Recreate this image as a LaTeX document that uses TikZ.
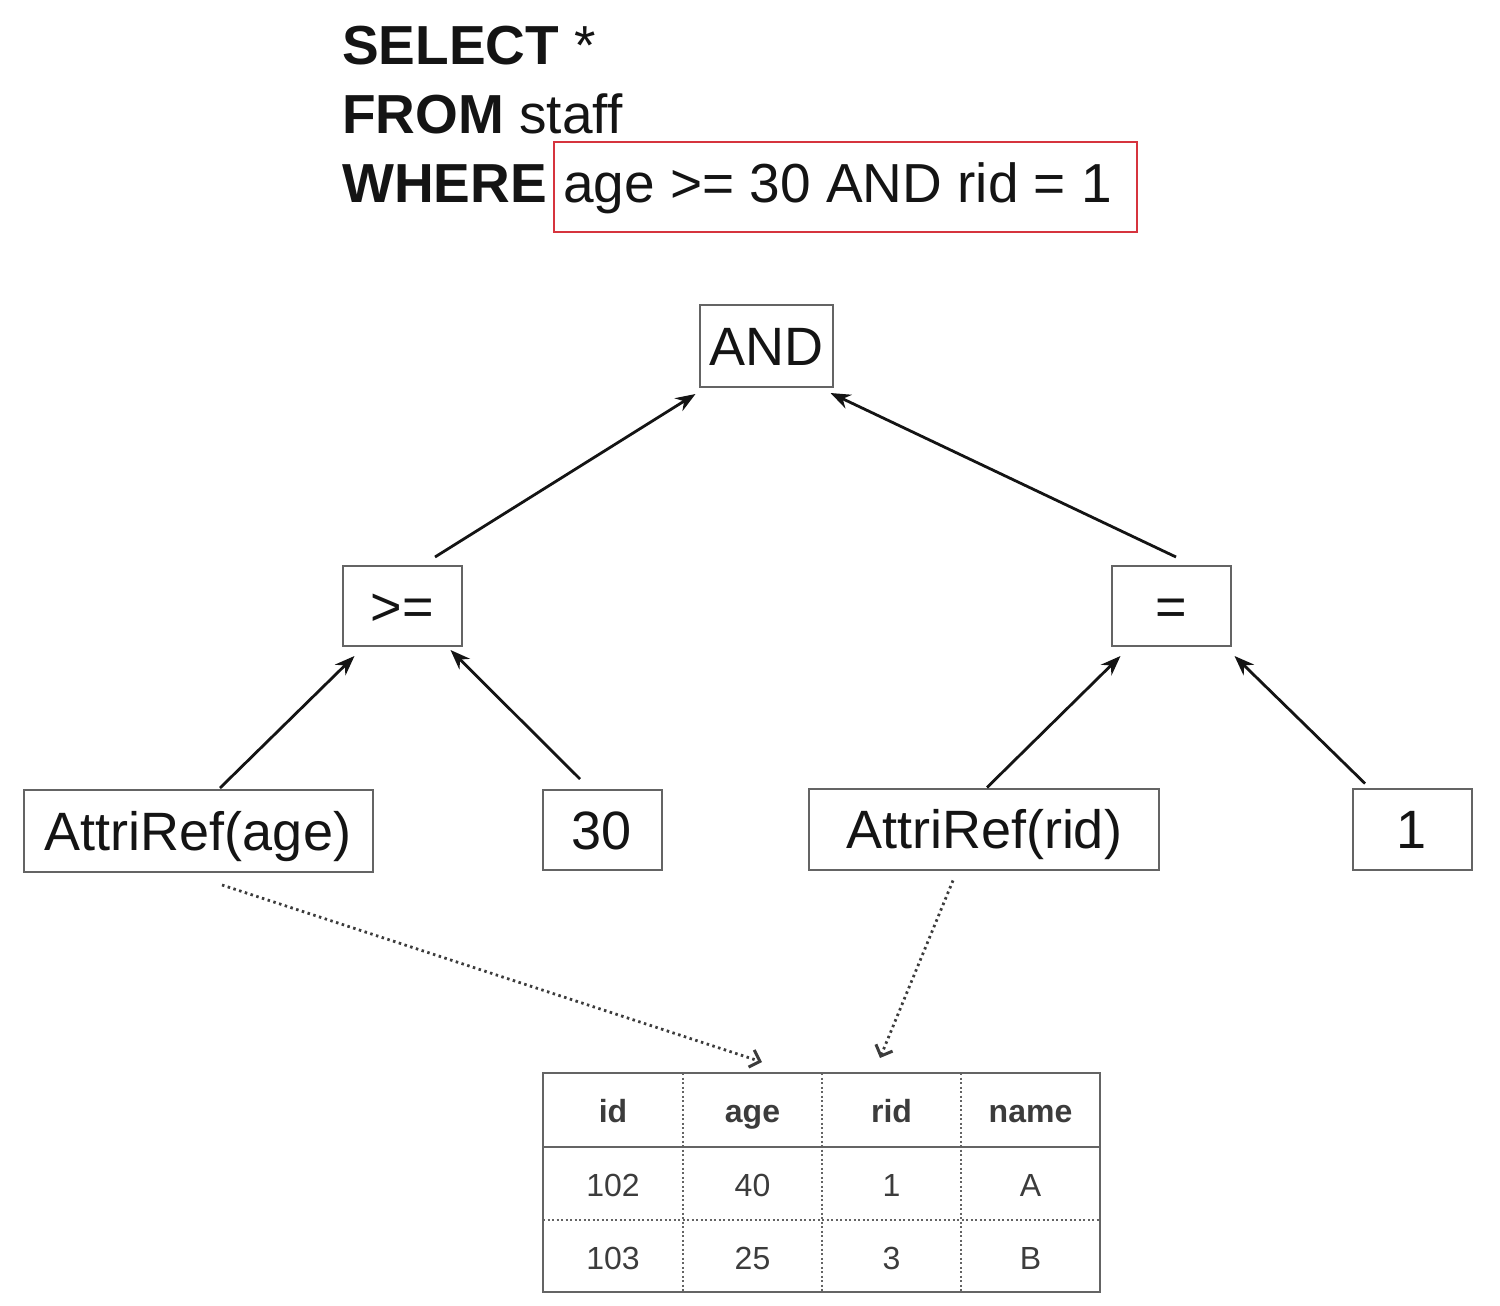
\documentclass[tikz,border=0pt]{standalone}
\usepackage{fontspec}
\setmainfont{Liberation Sans}
\usetikzlibrary{arrows.meta,calc}
\definecolor{redc}{RGB}{214,52,62}
\definecolor{boxc}{RGB}{100,100,100}
\definecolor{txtc}{RGB}{20,20,20}
\definecolor{tabc}{RGB}{60,60,60}
\tikzset{
  treebox/.style={draw=boxc, line width=2pt, inner sep=0pt, text=txtc, text height=39pt, text depth=0pt, font=\fontsize{54}{60}\selectfont},
  treearrow/.style={draw=txtc, line width=2.8pt, -{Stealth[length=20pt,width=15pt]}},
  refarrow/.style={draw=tabc, line width=2.8pt, dash pattern=on 2.5pt off 3.5pt, -{Straight Barb[length=9pt,width=18pt,line width=3pt]}},
  sqltext/.style={anchor=base west, inner sep=0pt, text=txtc, font=\fontsize{55}{60}\selectfont},
  cell/.style={anchor=base, inner sep=0pt, text=tabc, font=\fontsize{32}{36}\selectfont},
  headcell/.style={cell, font=\fontsize{32}{36}\selectfont\bfseries},
  tabsolid/.style={draw=boxc, line width=2.5pt},
  tabdot/.style={draw=boxc, line width=1.5pt, dash pattern=on 2pt off 2.5pt},
}
\begin{document}
\begin{tikzpicture}[x=1pt,y=-1pt]
\useasboundingbox (0,0) rectangle (1500,1306);

% SQL query
\node[sqltext] (sel) at (342,65) {\textbf{SELECT} *};
\node[sqltext] (from) at (342,133) {\textbf{FROM} staff};
\node[sqltext] (where) at (342,202) {\textbf{WHERE}};
\node[sqltext] (cond) at (563,202) {age >= 30 AND rid = 1};
\draw[draw=redc, line width=2.5pt] ($(cond.base west)+(-9,-60)$) rectangle ++(583,90);

% tree nodes
\node[treebox, minimum width=133pt, minimum height=82pt] (and) at (766,346) {AND};
\node[treebox, minimum width=119pt, minimum height=80pt] (ge) at (402,606) {>=};
\node[treebox, minimum width=119pt, minimum height=80pt] (eq) at (1171,606) {=};
\node[treebox, minimum width=349pt, minimum height=82pt] (ar) at (198,831) {AttriRef(age)};
\node[treebox, minimum width=119pt, minimum height=80pt] (n30) at (602,830) {30};
\node[treebox, minimum width=350pt, minimum height=81pt] (rr) at (984,829) {AttriRef(rid)};
\node[treebox, minimum width=119pt, minimum height=81pt] (n1) at (1412,829) {1};

% tree arrows
\draw[treearrow] ($(ge.north)+(33,-8)$) -- ($(and.south west)+(-3,6)$);
\draw[treearrow] ($(eq.north)+(5,-8)$) -- ($(and.south east)+(-3,5)$);
\draw[treearrow] ($(ar.north)+(22,-1)$) -- ($(ge.south west)+(13,9)$);
\draw[treearrow] ($(n30.north)+(-22,-10)$) -- ($(ge.south east)+(-12,3)$);
\draw[treearrow] ($(rr.north)+(3,0)$) -- ($(eq.south west)+(10,9)$);
\draw[treearrow] ($(n1.north)+(-47,-4)$) -- ($(eq.south east)+(3,9)$);

% table cells
\node[headcell] (h1) at (613,1122) {id};
\node[headcell] (h2) at (752.5,1122) {age};
\node[headcell] (h3) at (891.5,1122) {rid};
\node[headcell] (h4) at (1030.5,1122) {name};
\node[cell] (a1) at (613,1196) {102};
\node[cell] (a2) at (752.5,1196) {40};
\node[cell] (a3) at (891.5,1196) {1};
\node[cell] (a4) at (1030.5,1196) {A};
\node[cell] (b1) at (613,1269) {103};
\node[cell] (b2) at (752.5,1269) {25};
\node[cell] (b3) at (891.5,1269) {3};
\node[cell] (b4) at (1030.5,1269) {B};

% table lines
\coordinate (tnw) at (543,1073);
\draw[tabdot] (683,1073) -- (683,1292);
\draw[tabdot] (822,1073) -- (822,1292);
\draw[tabdot] (961,1073) -- (961,1292);
\draw[tabdot] (543,1220) -- (1100,1220);
\draw[tabsolid] (543,1147) -- (1100,1147);
\draw[tabsolid] (tnw) rectangle (1100,1292);
\coordinate (agetop) at (762,1062);
\coordinate (ridtop) at (880,1058);

% reference arrows
\draw[refarrow] ($(ar.south)+(24,12)$) -- (agetop);
\draw[refarrow] ($(rr.south)+(-31,10)$) -- (ridtop);
\end{tikzpicture}
\end{document}
